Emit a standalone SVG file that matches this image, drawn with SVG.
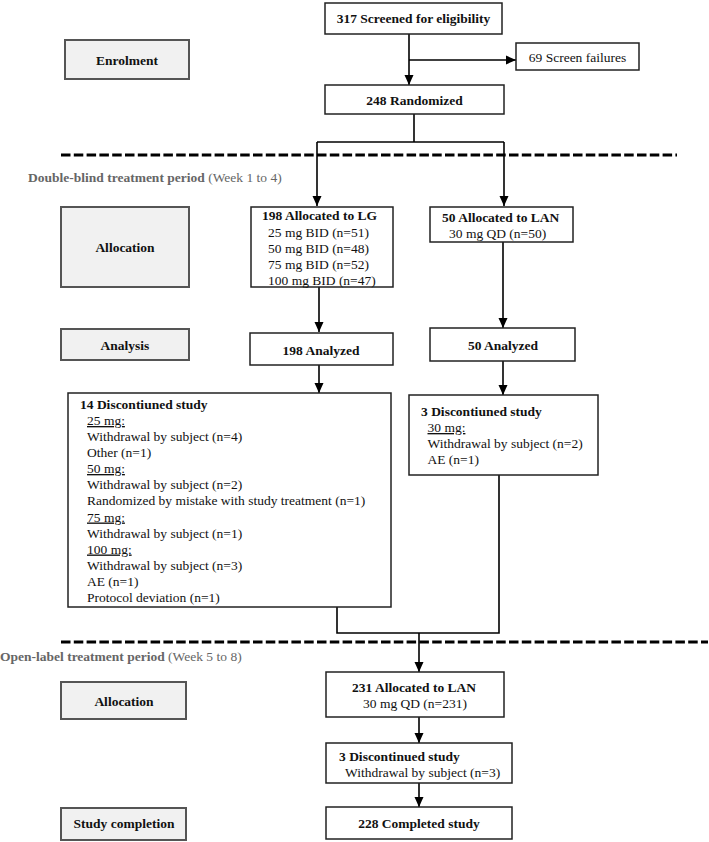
<svg xmlns="http://www.w3.org/2000/svg" width="709" height="842" viewBox="0 0 709 842">
<defs>
<marker id="arr" markerUnits="userSpaceOnUse" markerWidth="10" markerHeight="10" viewBox="0 0 10 10" refX="10" refY="5" orient="auto">
<path d="M0,0.5 L10,5 L0,9.5 Z" fill="#000"/>
</marker>
<style>
text{font-family:"Liberation Serif","Times New Roman",serif;font-size:13.5px;fill:#111}
.b{font-weight:bold}
.c{text-anchor:middle}
.box{fill:#fff;stroke:#222;stroke-width:1.5}
.gbox{fill:#f1f1f1;stroke:#555;stroke-width:2}
.per{fill:#666}
.u{text-decoration:underline}
.ln{fill:none;stroke:#000;stroke-width:1.6}
.dash{fill:none;stroke:#000;stroke-width:3;stroke-dasharray:9.5 3.3}
</style>
</defs>
<rect width="709" height="842" fill="#fff"/>

<g id="sections">
<line class="dash" x1="61" y1="155" x2="677" y2="155"/>
<line class="dash" x1="61" y1="642" x2="708" y2="642"/>
<text x="28" y="181.5" class="per"><tspan class="b per">Double-blind treatment period</tspan> (Week 1 to 4)</text>
<text x="0" y="661" class="per"><tspan class="b per">Open-label treatment period</tspan> (Week 5 to 8)</text>
</g>

<g id="connectors">
<line class="ln" x1="409" y1="34" x2="409" y2="85" marker-end="url(#arr)"/>
<line class="ln" x1="409" y1="60" x2="516" y2="60" marker-end="url(#arr)"/>
<polyline class="ln" points="414,114 414,142"/>
<polyline class="ln" points="317,142 504,142"/>
<line class="ln" x1="317" y1="142" x2="317" y2="206" marker-end="url(#arr)"/>
<line class="ln" x1="504" y1="142" x2="504" y2="206" marker-end="url(#arr)"/>
<line class="ln" x1="319" y1="287" x2="319" y2="332" marker-end="url(#arr)"/>
<line class="ln" x1="503" y1="242" x2="503" y2="328" marker-end="url(#arr)"/>
<line class="ln" x1="319" y1="365" x2="319" y2="393" marker-end="url(#arr)"/>
<line class="ln" x1="503" y1="361" x2="503" y2="395" marker-end="url(#arr)"/>
<polyline class="ln" points="337,607 337,633 499,633 499,475"/>
<line class="ln" x1="419" y1="633" x2="419" y2="672" marker-end="url(#arr)"/>
<line class="ln" x1="419" y1="717" x2="419" y2="743" marker-end="url(#arr)"/>
<line class="ln" x1="419" y1="783" x2="419" y2="807" marker-end="url(#arr)"/>
</g>

<g id="screened">
<rect class="box" x="325" y="3" width="177" height="31"/>
<text x="413.5" y="23" class="b c">317 Screened for eligibility</text>
</g>
<g id="enrolment">
<rect class="gbox" x="65" y="40" width="124" height="39"/>
<text x="127" y="65" class="b c">Enrolment</text>
</g>
<g id="screen-failures">
<rect class="box" x="516" y="43" width="123" height="27"/>
<text x="577.5" y="61.5" class="c">69 Screen failures</text>
</g>
<g id="randomized">
<rect class="box" x="325" y="85" width="179" height="29"/>
<text x="414.5" y="104.5" class="b c">248 Randomized</text>
</g>

<g id="allocation1">
<rect class="gbox" x="61" y="207" width="128" height="80"/>
<text x="125" y="252" class="b c">Allocation</text>
</g>
<g id="alloc-lg">
<rect class="box" x="251" y="207" width="142" height="80"/>
<text x="262" y="220" class="b">198 Allocated to LG</text>
<text x="268" y="236.5">25 mg BID (n=51)</text>
<text x="268" y="252.5">50 mg BID (n=48)</text>
<text x="268" y="268.5">75 mg BID (n=52)</text>
<text x="268" y="284.5">100 mg BID (n=47)</text>
</g>
<g id="alloc-lan">
<rect class="box" x="430" y="207" width="143" height="35"/>
<text x="442" y="222" class="b">50 Allocated to LAN</text>
<text x="449" y="238">30 mg QD (n=50)</text>
</g>

<g id="analysis">
<rect class="gbox" x="61" y="329" width="128" height="31"/>
<text x="125" y="349.5" class="b c">Analysis</text>
</g>
<g id="analyzed-lg">
<rect class="box" x="250" y="333" width="143" height="32"/>
<text x="321" y="354.5" class="b c">198 Analyzed</text>
</g>
<g id="analyzed-lan">
<rect class="box" x="430" y="328" width="145" height="33"/>
<text x="503" y="349.5" class="b c">50 Analyzed</text>
</g>

<g id="disc-lg">
<rect class="box" x="68" y="393" width="323" height="214"/>
<text x="80" y="408.5" class="b">14 Discontiuned study</text>
<text x="87" y="425" class="u">25 mg:</text>
<text x="87" y="441">Withdrawal by subject (n=4)</text>
<text x="87" y="457">Other (n=1)</text>
<text x="87" y="473" class="u">50 mg:</text>
<text x="87" y="489">Withdrawal by subject (n=2)</text>
<text x="87" y="505">Randomized by mistake with study treatment (n=1)</text>
<text x="87" y="521.5" class="u">75 mg:</text>
<text x="87" y="537.5">Withdrawal by subject (n=1)</text>
<text x="87" y="553.5" class="u">100 mg:</text>
<text x="87" y="570">Withdrawal by subject (n=3)</text>
<text x="87" y="586">AE  (n=1)</text>
<text x="87" y="602">Protocol deviation (n=1)</text>
</g>
<g id="disc-lan">
<rect class="box" x="409" y="395" width="189" height="80"/>
<text x="421" y="415.5" class="b">3 Discontiuned study</text>
<text x="427.5" y="432" class="u">30 mg:</text>
<text x="427.5" y="448">Withdrawal by subject (n=2)</text>
<text x="427.5" y="464">AE  (n=1)</text>
</g>

<g id="allocation2">
<rect class="gbox" x="61" y="682" width="125" height="37"/>
<text x="124" y="705.5" class="b c">Allocation</text>
</g>
<g id="alloc-ol">
<rect class="box" x="326" y="672" width="178" height="45"/>
<text x="352" y="691.5" class="b">231 Allocated to LAN</text>
<text x="363" y="707.5">30 mg QD (n=231)</text>
</g>
<g id="disc-ol">
<rect class="box" x="326" y="743" width="186" height="40"/>
<text x="339" y="761" class="b">3 Discontinued study</text>
<text x="345" y="777">Withdrawal by subject (n=3)</text>
</g>
<g id="completion">
<rect class="gbox" x="61" y="808" width="125" height="32"/>
<text x="124" y="828" class="b c">Study completion</text>
</g>
<g id="completed">
<rect class="box" x="326" y="807" width="186" height="32"/>
<text x="419" y="827.5" class="b c">228 Completed study</text>
</g>
</svg>
